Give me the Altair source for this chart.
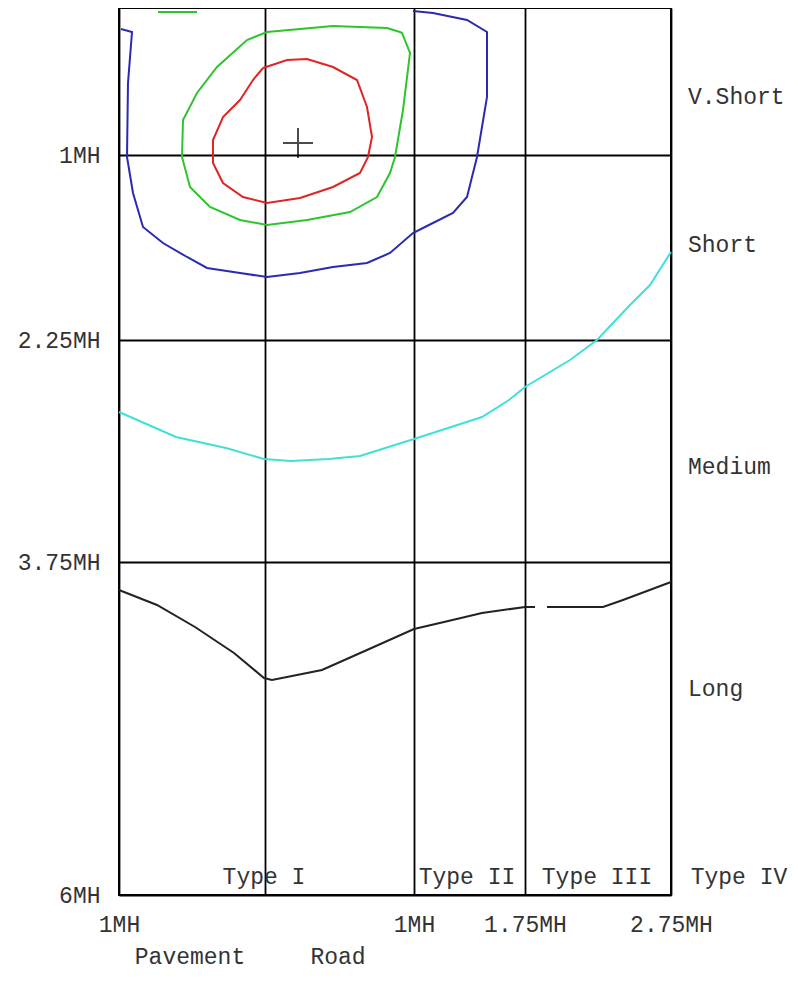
import altair as alt
import pandas as pd

# ---------------- data (chart units; x 0..552, y 0..887 top-down) ----------------
blue_x = [2, 13, 9, 8, 14, 24, 44, 68, 88, 121, 148, 181, 214, 248, 271, 294, 306, 334, 348, 358, 368, 368, 348, 314, 294]
blue_y = [21, 24, 75, 149, 185, 219, 235, 249, 260, 265, 269, 265, 259, 255, 245, 225, 219, 205, 189, 149, 89, 24, 12, 5, 3]

green_x = [281, 268, 214, 148, 128, 98, 78, 64, 63, 71, 91, 121, 148, 188, 231, 258, 271, 276, 284, 291, 283, 281]
green_y = [24, 20, 18, 24, 32, 59, 85, 112, 149, 179, 199, 212, 217, 212, 204, 189, 165, 149, 102, 45, 25, 24]

green_top_x = [39, 78]
green_top_y = [4, 4]

red_x = [144, 168, 188, 214, 238, 248, 253, 249, 241, 214, 181, 148, 124, 104, 94, 94, 104, 121, 134, 144]
red_y = [60, 52, 51, 59, 72, 99, 129, 149, 165, 179, 190, 195, 189, 175, 155, 132, 109, 92, 72, 60]

cyan_x = [0, 57, 107, 145, 172, 210, 241, 295, 363, 390, 406, 451, 478, 511, 531, 552]
cyan_y = [404, 429, 440, 451, 453, 451, 448, 431, 409, 392, 379, 352, 332, 297, 277, 244]

long1_x = [0, 38, 76, 115, 145, 153, 203, 248, 295, 325, 363, 406, 416]
long1_y = [582, 597, 619, 645, 670, 672, 662, 642, 621, 614, 605, 599, 599]
long2_x = [428, 484, 504, 552]
long2_y = [599, 599, 592, 574]

center_x = [179]
center_y = [135]

x_tick_vals = [0, 146, 295, 406, 552]
x_tick_labels = ["1MH", "", "1MH", "1.75MH", "2.75MH"]
y_tick_vals = [147, 332, 554, 887]
y_tick_labels = ["1MH", "2.25MH", "3.75MH", "6MH"]

right_labels = ["V.Short", "Short", "Medium", "Long"]
right_label_y = [89, 237, 459, 681]

type_labels = ["Type I", "Type II", "Type III", "Type IV"]
type_label_x = [145, 348, 478, 620]

bottom_titles = ["Pavement", "Road"]
bottom_title_x = [71, 219]

series_names = ["blue", "green", "green_top", "red", "cyan", "long"]
series_colors = ["#2a2ab4", "#2ec42e", "#2ec42e", "#e02424", "#3fe0d8", "#222222"]

# ---------------- build tables ----------------
rows = []
def add(name, seg, xs, ys):
    for i, (a, b) in enumerate(zip(xs, ys)):
        rows.append({"series": name, "seg": seg, "i": i, "x": a, "y": b})

add("blue", "blue", blue_x, blue_y)
add("green", "green", green_x, green_y)
add("green_top", "green_top", green_top_x, green_top_y)
add("red", "red", red_x, red_y)
add("cyan", "cyan", cyan_x, cyan_y)
add("long", "long1", long1_x, long1_y)
add("long", "long2", long2_x, long2_y)
lines_df = pd.DataFrame(rows)

FONT = "Liberation Mono"
FS = 23
TXT = "#333333"

def label_expr(vals, labels):
    parts = [f"datum.value == {v} ? '{l}'" for v, l in zip(vals, labels)]
    return " : ".join(parts) + " : ''"

xs = alt.Scale(domain=[0, 552], nice=False, zero=False)
ys = alt.Scale(domain=[0, 887], nice=False, zero=False, reverse=True)

x_axis = alt.Axis(values=x_tick_vals, labelExpr=label_expr(x_tick_vals, x_tick_labels),
                  grid=True, gridColor="black", gridWidth=1.8, gridOpacity=1,
                  domain=False, ticks=False, tickSize=0, labelFlush=False, labelOverlap=False,
                  labelFont=FONT, labelFontSize=FS, labelColor=TXT, labelPadding=29,
                  labelBaseline="middle", title=None)
y_axis = alt.Axis(values=y_tick_vals, labelExpr=label_expr(y_tick_vals, y_tick_labels),
                  grid=True, gridColor="black", gridWidth=1.8, gridOpacity=1,
                  domain=False, ticks=False, tickSize=0, labelOverlap=False,
                  labelFont=FONT, labelFontSize=FS, labelColor=TXT, labelPadding=19,
                  title=None)

lines = alt.Chart(lines_df).mark_line(strokeWidth=2).encode(
    x=alt.X("x:Q", scale=xs, axis=x_axis),
    y=alt.Y("y:Q", scale=ys, axis=y_axis),
    color=alt.Color("series:N", scale=alt.Scale(domain=series_names, range=series_colors), legend=None),
    detail="seg:N",
    order="i:Q",
)

center = alt.Chart(pd.DataFrame({"x": center_x, "y": center_y})).mark_point(
    shape="M-1,0H1M0,-1V1", size=900, stroke="black", strokeWidth=2, filled=False
).encode(x=alt.X("x:Q", scale=xs), y=alt.Y("y:Q", scale=ys))

right_df = pd.DataFrame({"label": right_labels, "y": right_label_y})
right_text = alt.Chart(right_df).mark_text(
    align="left", baseline="middle", font=FONT, fontSize=FS, color=TXT
).encode(x=alt.value(569), y=alt.Y("y:Q", scale=ys), text="label:N")

type_df = pd.DataFrame({"label": type_labels, "x": type_label_x})
type_text = alt.Chart(type_df).mark_text(
    align="center", baseline="middle", font=FONT, fontSize=FS, color=TXT
).encode(x=alt.X("x:Q", scale=xs), y=alt.value(869), text="label:N")

bt_df = pd.DataFrame({"label": bottom_titles, "x": bottom_title_x})
bt_text = alt.Chart(bt_df).mark_text(
    align="center", baseline="middle", font=FONT, fontSize=FS, color=TXT
).encode(x=alt.X("x:Q", scale=xs), y=alt.value(949), text="label:N")

chart = alt.layer(lines, center, right_text, type_text, bt_text).properties(
    width=552, height=887,
    autosize=alt.AutoSizeParams(type="none"),
    padding={"left": 111, "top": 0, "right": 119, "bottom": 75},
    background="white",
).configure_view(stroke="black", strokeWidth=2)

chart.save("out.html", embed_options={"renderer": "svg", "actions": False})
